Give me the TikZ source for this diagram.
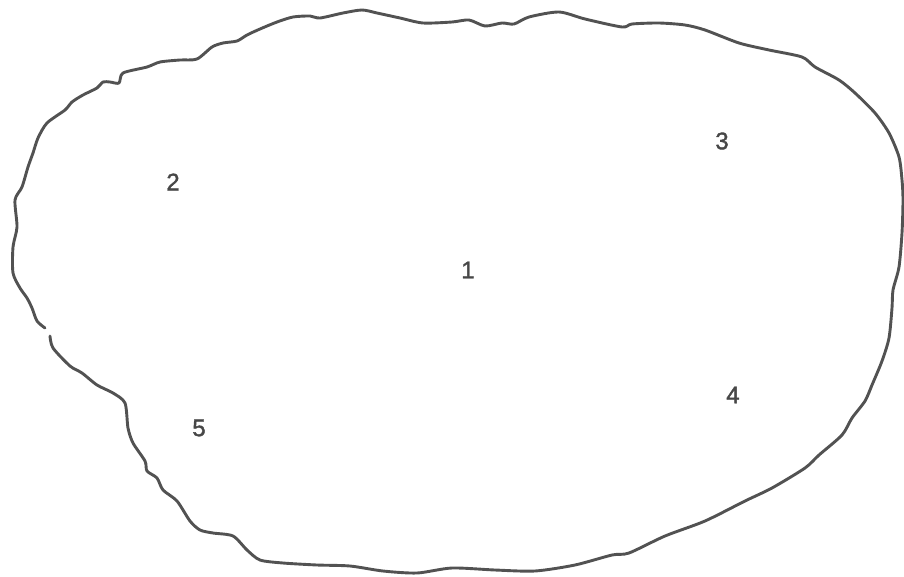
\documentclass[tikz,border=0pt]{standalone}
\usepackage{fontspec}
\setmainfont{Liberation Sans}
\newfontfamily\numfont[FakeBold=1.6]{Liberation Sans}
\begin{document}
\begin{tikzpicture}[x=1pt,y=-1pt,
  outline/.style={draw=black!68,line width=2.9pt,line cap=round,line join=round},
  num/.style={text=black!72,font=\numfont\fontsize{24}{24}\selectfont}]
\useasboundingbox (0,0) rectangle (904,576);
\draw[outline] plot[smooth,tension=0.45] coordinates {
 (50,336) (53,348) (70,366) (82,373) (97,385) (113,393) (125,403) (128,428)
 (133,443) (145,461) (147,471) (157,478) (163,490) (177,501) (190,521) (200,530)
 (213,533) (233,536) (247,550) (260,560) (283,563) (317,565) (350,566) (383,571)
 (417,573) (452,568) (495,570) (535,571) (575,565) (612,555) (629,553) (665,536)
 (705,521) (745,501) (772,488) (805,468) (819,455) (842,435) (852,418) (865,401)
 (872,385) (882,361) (889,338) (892,308) (893,290) (899,267) (902,233) (903,200)
 (902,180) (899,157) (889,133) (875,113) (855,93) (839,80) (815,67) (802,57)
 (769,50) (739,43) (705,30) (685,25) (659,23) (632,24) (622,27) (585,19)
 (559,12) (529,17) (514,24) (502,23) (485,26) (469,20) (452,22) (423,23)
 (400,18) (377,13) (362,10) (343,13) (320,18) (310,16) (293,17) (277,22)
 (260,29) (247,35) (237,41) (223,43) (212,47) (197,59) (180,60) (160,62)
 (147,67) (123,73) (119,83) (110,82) (103,82) (97,88) (83,95) (72,102)
 (65,110) (47,123) (38,138) (33,153) (28,167) (22,187) (15,200) (17,227)
 (13,247) (13,273) (20,288) (27,298) (32,308) (37,321) (45,328)};
\node[num] (n1) at (468,270) {1};
\node[num] (n2) at (173,182) {2};
\node[num] (n3) at (722,141) {3};
\node[num] (n4) at (733,395) {4};
\node[num] (n5) at (199,428) {5};
\end{tikzpicture}
\end{document}
